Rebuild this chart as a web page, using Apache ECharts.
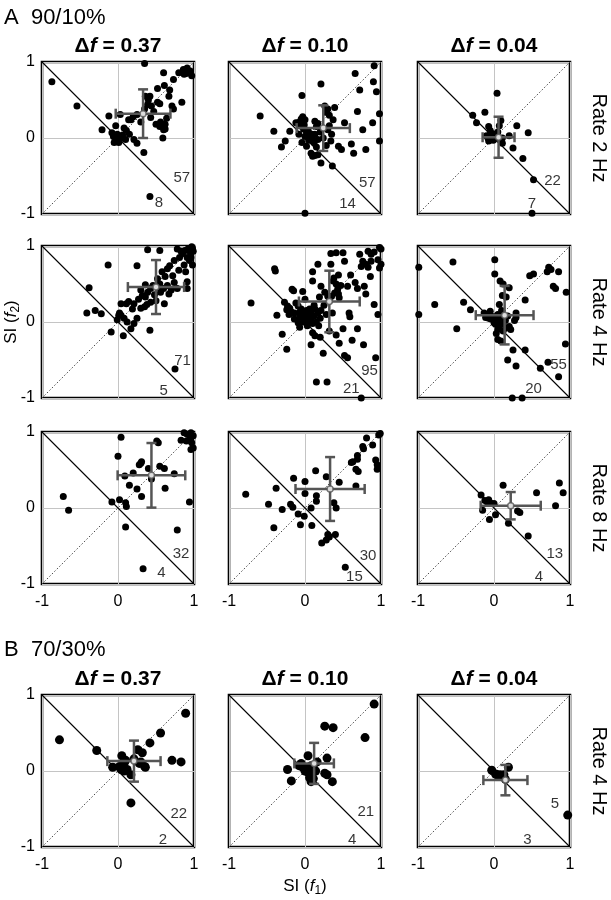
<!DOCTYPE html>
<html><head><meta charset="utf-8">
<script src="https://cdn.jsdelivr.net/npm/echarts@6/dist/echarts.min.js"></script>
<style>html,body{margin:0;padding:0;background:#fff}#c{width:611px;height:900px}</style>
</head><body><div id="c"></div>
<script>
// ---------------- DATA ----------------
const blockTitles = ['A  90/10%', 'B  70/30%'];
const dfLabels = ['0.37', '0.10', '0.04'];
const rowLabels = ['Rate 2 Hz', 'Rate 4 Hz', 'Rate 8 Hz', 'Rate 4 Hz'];
const ticks = [-1, 0, 1];

// A, 2 Hz
const ptsA2_37 = [[-0.87,0.74],[-0.54,0.42],[0.35,0.98],[0.60,0.86],[0.86,0.90],[0.90,0.85],[0.95,0.88],[0.97,0.82],[0.87,0.84],[0.73,0.77],[0.61,0.69],[0.52,0.65],[0.36,0.55],[0.42,0.55],[0.67,0.55],[0.52,0.47],[0.39,0.44],[0.44,0.42],[0.55,0.45],[0.71,0.42],[0.84,0.47],[0.73,0.38],[0.35,0.38],[0.25,0.31],[0.17,0.24],[0.03,0.31],[-0.12,0.29],[0.14,0.24],[0.43,0.27],[0.30,0.21],[0.50,0.18],[0.56,0.21],[0.62,0.18],[0.62,0.12],[0.55,0.15],[-0.03,0.16],[-0.21,0.11],[0.08,0.13],[0.11,0.10],[-0.08,0.07],[-0.06,0.02],[-0.01,0.05],[0.03,-0.01],[-0.03,-0.04],[0.01,-0.06],[0.10,-0.02],[0.21,-0.02],[0.25,-0.07],[0.34,-0.19],[0.59,0.0],[0.42,-0.77],[0.00,-0.03],[0.06,0.04],[0.15,0.05],[0.47,0.35],[0.64,0.26],[0.80,0.86],[0.91,0.92],[0.20,0.28],[-0.05,-0.06],[0.60,0.11],[0.58,0.16],[0.40,0.50],[0.93,0.87],[0.68,0.63]];
const ptsA2_10 = [[0.91,0.95],[0.66,0.85],[0.90,0.74],[0.72,0.63],[0.94,0.61],[0.21,0.71],[-0.04,0.56],[0.26,0.42],[0.30,0.38],[0.39,0.40],[0.69,0.35],[0.98,0.32],[0.32,0.30],[0.37,0.24],[0.52,0.20],[0.89,0.20],[-0.59,0.29],[-0.05,0.25],[-0.06,0.22],[-0.03,0.28],[0.00,0.24],[-0.09,0.20],[-0.07,0.16],[-0.01,0.17],[0.13,0.22],[0.17,0.19],[0.15,0.15],[0.32,0.16],[0.30,0.11],[-0.41,0.09],[-0.20,0.09],[0.76,0.11],[0.02,0.07],[0.06,0.06],[0.09,0.05],[0.13,0.05],[0.00,0.02],[0.06,0.00],[0.10,-0.02],[0.17,-0.02],[-0.26,-0.04],[-0.31,-0.12],[-0.04,-0.06],[0.02,-0.11],[0.34,-0.04],[0.44,-0.11],[0.48,-0.15],[0.61,-0.08],[0.80,-0.15],[0.64,-0.20],[0.98,-0.04],[0.08,-0.20],[0.13,-0.23],[0.17,-0.22],[0.10,-0.24],[0.21,-0.33],[0.36,-0.37],[0.00,-0.99],[0.04,0.10],[0.08,0.02],[0.12,-0.06],[-0.12,0.20],[0.27,0.34],[0.35,0.05],[0.24,0.00],[-0.02,0.12],[0.05,-0.03],[0.15,-0.12],[0.20,0.08],[0.28,-0.10],[-0.08,0.05]];
const ptsA2_04 = [[0.04,0.59],[-0.12,0.34],[-0.28,0.30],[-0.23,0.20],[-0.07,0.15],[-0.05,0.10],[-0.04,0.07],[0.09,0.23],[0.07,0.16],[0.30,0.16],[0.45,0.07],[-0.10,0.03],[-0.08,0.00],[-0.02,0.01],[0.02,0.02],[0.04,0.00],[-0.07,-0.04],[0.07,-0.02],[0.11,0.00],[0.20,0.03],[0.11,-0.07],[0.25,-0.13],[0.38,-0.27],[0.52,-0.55],[0.50,-0.99],[-0.01,-0.03],[0.01,0.05],[-0.04,-0.01],[0.05,0.08]];
// A, 4 Hz
const ptsA4_37 = [[0.39,0.95],[0.55,0.94],[0.78,0.96],[0.83,0.93],[0.88,0.94],[0.92,0.96],[0.95,0.92],[0.98,0.97],[0.96,0.85],[0.91,0.85],[0.94,0.81],[0.98,0.75],[0.87,0.75],[0.81,0.85],[-0.13,0.75],[0.25,0.74],[0.65,0.70],[0.74,0.81],[0.58,0.66],[0.72,0.61],[0.74,0.52],[0.91,0.53],[0.91,0.44],[0.78,0.44],[0.67,0.37],[0.65,0.48],[0.55,0.50],[0.55,0.45],[0.56,0.39],[0.36,0.49],[0.43,0.44],[0.30,0.42],[0.32,0.35],[0.39,0.39],[0.36,0.33],[-0.38,0.45],[0.61,0.24],[0.50,0.28],[0.38,0.23],[0.35,0.20],[0.43,0.26],[0.14,0.27],[0.11,0.24],[0.21,0.24],[0.19,0.17],[0.04,0.24],[-0.41,0.12],[-0.30,0.15],[-0.22,0.11],[0.01,0.09],[0.04,0.09],[0.08,0.05],[0.25,0.05],[-0.01,0.03],[0.12,0.00],[0.21,-0.02],[0.17,-0.09],[-0.09,-0.13],[0.07,-0.18],[0.42,-0.11],[0.75,-0.62],[0.97,0.99],[0.99,0.93],[0.85,0.90],[0.62,0.60],[0.48,0.36],[0.70,0.42],[0.27,0.30],[0.46,0.48],[0.52,0.57],[0.68,0.74],[0.30,0.18],[0.02,0.12],[0.89,0.66],[0.60,0.44],[0.80,0.68]];
const ptsA4_10 = [[0.34,0.90],[0.41,0.91],[0.50,0.91],[0.72,0.89],[0.83,0.93],[0.87,0.89],[0.91,0.92],[0.98,0.98],[1.0,0.96],[0.96,0.82],[0.87,0.80],[0.80,0.76],[0.74,0.73],[0.76,0.80],[0.83,0.72],[0.98,0.71],[1.0,0.76],[-0.40,0.70],[-0.39,0.67],[0.17,0.76],[0.34,0.76],[0.10,0.66],[0.37,0.54],[0.41,0.50],[0.43,0.43],[0.47,0.48],[0.44,0.37],[0.45,0.32],[0.39,0.38],[0.35,0.34],[0.56,0.47],[0.69,0.44],[0.78,0.47],[0.80,0.37],[0.10,0.54],[0.21,0.47],[-0.17,0.43],[-0.15,0.41],[-0.03,0.40],[0.26,0.39],[0.30,0.34],[0.19,0.33],[0.32,0.28],[-0.71,0.25],[-0.27,0.26],[-0.23,0.21],[-0.20,0.18],[-0.24,0.16],[-0.18,0.13],[-0.14,0.12],[-0.21,0.10],[0.91,0.23],[-0.09,0.21],[-0.05,0.17],[-0.07,0.13],[0.0,0.12],[0.02,0.15],[0.06,0.17],[0.08,0.12],[0.12,0.08],[0.04,0.07],[-0.03,0.08],[-0.07,0.06],[-0.14,0.04],[-0.09,-0.01],[0.0,0.04],[0.08,0.04],[0.13,0.17],[0.17,0.12],[0.21,0.15],[-0.37,0.09],[0.58,0.12],[0.59,0.07],[0.96,0.10],[-0.07,-0.07],[0.13,-0.18],[0.10,-0.14],[0.50,-0.09],[0.69,-0.09],[-0.30,-0.16],[0.41,-0.17],[0.77,-0.30],[-0.24,-0.36],[0.24,-0.41],[0.52,-0.44],[0.56,-0.47],[0.93,-0.47],[0.15,-0.79],[0.29,-0.79],[0.74,-1.0],[0.05,0.02],[0.10,-0.02],[0.15,0.00],[-0.02,0.00],[0.03,-0.05],[0.12,0.22],[0.25,0.22],[0.20,0.05],[0.28,0.10],[0.18,-0.05],[-0.12,0.25],[0.00,0.30],[0.38,0.58],[0.44,0.62],[0.60,0.62],[0.52,0.80],[0.66,0.52],[0.86,0.60],[0.32,-0.12],[0.45,-0.28],[0.62,-0.24],[0.36,0.12],[0.08,-0.30],[0.20,-0.20]];
const ptsA4_04 = [[-0.99,0.72],[-0.99,0.10],[-0.54,0.79],[0.01,0.82],[0.01,0.63],[0.08,0.54],[0.12,0.50],[0.20,0.45],[0.47,0.61],[0.52,0.63],[0.72,0.72],[0.75,0.69],[0.70,0.66],[0.85,0.66],[0.78,0.47],[0.81,0.44],[0.95,0.39],[0.11,0.35],[0.16,0.33],[0.41,0.29],[0.07,0.23],[-0.78,0.23],[-0.40,0.26],[-0.31,0.16],[-0.13,0.12],[-0.09,0.09],[-0.04,0.08],[0.00,0.07],[0.04,0.07],[0.09,0.06],[-0.04,0.04],[0.02,0.02],[0.07,0.03],[0.11,0.01],[-0.11,0.06],[-0.07,0.05],[0.05,0.10],[-0.02,0.05],[0.13,0.05],[0.06,0.00],[0.00,-0.01],[0.15,0.02],[0.29,0.12],[0.29,0.06],[0.27,0.02],[0.02,-0.03],[0.07,-0.05],[0.11,-0.03],[0.16,-0.08],[0.20,-0.06],[0.05,-0.10],[0.12,-0.12],[0.22,-0.10],[-0.49,-0.09],[0.05,-0.23],[0.09,-0.25],[0.25,-0.37],[0.41,-0.37],[0.94,-0.29],[0.18,-0.50],[0.29,-0.58],[0.61,-0.61],[0.71,-0.53],[0.85,-0.72],[0.24,-1.0],[0.37,-1.0],[0.10,0.15],[-0.05,0.14],[0.18,0.08],[0.03,-0.15]];
// A, 8 Hz
const ptsA8_37 = [[0.04,0.93],[0.00,0.68],[0.51,0.88],[0.53,0.86],[0.87,0.99],[0.91,0.97],[0.96,0.99],[0.99,0.95],[0.94,0.90],[0.97,0.86],[0.99,0.79],[0.96,0.77],[0.83,0.89],[0.90,0.88],[0.31,0.61],[0.30,0.59],[0.28,0.57],[0.40,0.52],[0.20,0.46],[0.09,0.42],[0.55,0.55],[0.61,0.52],[0.74,0.45],[0.44,0.38],[0.15,0.30],[0.25,0.25],[0.62,0.26],[0.31,0.15],[-0.72,0.15],[-0.65,-0.03],[-0.08,0.08],[0.02,0.11],[0.10,0.07],[0.11,0.02],[0.94,0.08],[0.10,-0.25],[0.78,-0.29],[0.33,-0.80]];
const ptsA8_10 = [[0.99,0.98],[0.97,0.96],[0.81,0.92],[0.89,0.83],[0.76,0.81],[0.77,0.78],[0.69,0.69],[0.69,0.64],[0.63,0.61],[0.61,0.60],[0.93,0.63],[0.95,0.57],[0.95,0.51],[0.67,0.51],[0.70,0.48],[0.14,0.49],[-0.15,0.39],[0.00,0.35],[0.28,0.41],[0.45,0.34],[-0.38,0.26],[0.00,0.19],[-0.78,0.18],[0.15,0.16],[0.15,0.09],[0.67,0.29],[-0.48,0.05],[-0.19,0.05],[-0.16,0.01],[-0.30,-0.02],[0.08,-0.00],[0.38,0.07],[0.41,-0.00],[-0.09,-0.08],[-0.01,-0.11],[-0.41,-0.26],[-0.06,-0.22],[0.09,-0.23],[0.30,-0.35],[0.32,-0.38],[0.28,-0.42],[0.22,-0.46],[0.40,-0.35],[0.53,-0.78]];
const ptsA8_04 = [[0.12,0.30],[-0.17,0.17],[-0.12,0.10],[-0.09,0.08],[-0.05,0.07],[0.00,0.06],[-0.07,0.11],[-0.15,-0.03],[0.02,-0.09],[-0.06,-0.15],[0.19,-0.20],[0.31,-0.04],[0.34,-0.06],[0.56,0.20],[0.86,0.33],[0.91,0.20],[0.81,0.03],[0.45,-0.37]];
// B, 4 Hz
const ptsB4_37 = [[-0.77,0.41],[-0.28,0.27],[0.89,0.76],[0.56,0.50],[0.42,0.37],[0.83,0.12],[0.71,0.14],[0.05,0.20],[-0.07,0.05],[0.02,0.06],[0.08,0.10],[0.12,0.02],[0.08,0.00],[0.26,0.28],[0.32,0.24],[0.30,0.12],[0.35,0.06],[0.36,0.05],[0.17,-0.05],[0.17,-0.42],[0.21,0.16],[0.10,0.14],[0.04,0.02],[0.28,0.10]];
const ptsB4_10 = [[0.91,0.88],[0.26,0.59],[0.37,0.57],[0.79,0.44],[0.04,0.20],[0.29,0.17],[-0.23,0.02],[-0.18,-0.13],[-0.08,0.07],[-0.03,0.05],[0.02,0.04],[0.08,0.07],[0.11,0.04],[0.04,-0.02],[0.09,-0.05],[0.06,-0.09],[0.11,-0.10],[0.26,-0.03],[0.29,-0.05],[0.36,-0.14],[0.08,-0.14],[0.16,0.12],[-0.05,0.10],[0.00,0.00],[0.14,0.00]];
const ptsB4_04 = [[-0.03,0.01],[0.04,-0.05],[0.08,-0.05],[0.13,-0.05],[0.19,0.05],[0.15,-0.11],[0.97,-0.58],[0.02,-0.04]];

// mean x, mean y, sd x, sd y
const errA2 = [[0.33,0.32,0.36,0.32],[0.24,0.13,0.35,0.30],[0.06,0.01,0.21,0.27]];
const errA4 = [[0.50,0.46,0.37,0.355],[0.32,0.27,0.40,0.405],[0.14,0.09,0.38,0.385]];
const errA8 = [[0.44,0.43,0.445,0.425],[0.33,0.25,0.455,0.42],[0.22,0.03,0.395,0.18]];
const errB4 = [[0.21,0.13,0.35,0.27],[0.12,0.10,0.26,0.27],[0.15,-0.12,0.29,0.20]];

// counts above / below the anti-diagonal
const countsA2 = [[57,8],[57,14],[22,7]];
const countsA4 = [[71,5],[95,21],[55,20]];
const countsA8 = [[32,4],[30,15],[13,4]];
const countsB4 = [[22,2],[21,4],[5,3]];

// ---------------- LAYOUT (positions of count labels, in axis units) ----------------
const countPos = [
  [[[0.84,-0.53],[0.54,-0.85]],[[0.82,-0.59],[0.56,-0.86]],[[0.77,-0.57],[0.50,-0.86]]],
  [[[0.85,-0.51],[0.60,-0.90]],[[0.85,-0.64],[0.61,-0.88]],[[0.85,-0.57],[0.52,-0.88]]],
  [[[0.83,-0.60],[0.57,-0.85]],[[0.83,-0.63],[0.65,-0.91]],[[0.80,-0.60],[0.59,-0.91]]],
  [[[0.80,-0.56],[0.59,-0.90]],[[0.80,-0.54],[0.62,-0.90]],[[0.80,-0.43],[0.44,-0.90]]]
];
const colLeft = [42, 229, 418];
const rowTop = [62, 246, 432, 695];
const dotSize = [7, 7, 7, 9];
const SZ = 152;
const FONT = '"Liberation Sans", Arial, Helvetica, sans-serif';

const rows = [
  {pts:[ptsA2_37, ptsA2_10, ptsA2_04], err:errA2, cnt:countsA2},
  {pts:[ptsA4_37, ptsA4_10, ptsA4_04], err:errA4, cnt:countsA4},
  {pts:[ptsA8_37, ptsA8_10, ptsA8_04], err:errA8, cnt:countsA8},
  {pts:[ptsB4_37, ptsB4_10, ptsB4_04], err:errB4, cnt:countsB4}
];

const grids = [], xAxes = [], yAxes = [], series = [];
rows.forEach((row, r) => {
  for (let c = 0; c < 3; c++) {
    const gi = grids.length;
    grids.push({left: colLeft[c], top: rowTop[r], width: SZ, height: SZ, show: true,
      borderColor: '#000', borderWidth: 2.6, backgroundColor: 'rgba(0,0,0,0)'});
    const showX = (r === 2 || r === 3);
    const showY = (c === 0);
    xAxes.push({gridIndex: gi, type: 'value', min: ticks[0], max: ticks[2], interval: 1,
      axisLine: {show: false}, axisTick: {show: false},
      splitLine: {show: true, lineStyle: {color: '#c4c4c4', width: 1}},
      axisLabel: {show: showX, fontSize: 16, color: '#000', fontFamily: FONT, margin: 10}});
    yAxes.push({gridIndex: gi, type: 'value', min: ticks[0], max: ticks[2], interval: 1,
      axisLine: {show: false}, axisTick: {show: false},
      splitLine: {show: true, lineStyle: {color: '#c4c4c4', width: 1}},
      axisLabel: {show: showY, fontSize: 16, color: '#000', fontFamily: FONT, margin: 7}});
    // anti-diagonal (solid)
    series.push({type: 'line', xAxisIndex: gi, yAxisIndex: gi, data: [[-1, 1], [1, -1]],
      symbol: 'none', silent: true, z: 2, lineStyle: {color: '#000', width: 1.1}});
    // identity (dotted)
    series.push({type: 'line', xAxisIndex: gi, yAxisIndex: gi, data: [[-1, -1], [1, 1]],
      symbol: 'none', silent: true, z: 2, lineStyle: {color: '#333', width: 0.9, type: [1.5, 2]}});
    // points
    series.push({type: 'scatter', xAxisIndex: gi, yAxisIndex: gi, data: row.pts[c],
      symbolSize: dotSize[r], silent: true, z: 3, itemStyle: {color: '#000', opacity: 1}});
    // error cross
    series.push({type: 'custom', xAxisIndex: gi, yAxisIndex: gi, data: [row.err[c]], silent: true, z: 5,
      renderItem: function (p, api) {
        const mx = api.value(0), my = api.value(1), sx = api.value(2), sy = api.value(3);
        const L = api.coord([mx - sx, my]), R = api.coord([mx + sx, my]);
        const T = api.coord([mx, my + sy]), B = api.coord([mx, my - sy]);
        const cap = 5;
        const st = {stroke: '#555', lineWidth: 2.5, fill: null};
        const ln = (x1, y1, x2, y2) => ({type: 'line', shape: {x1, y1, x2, y2}, style: st});
        return {type: 'group', children: [
          ln(L[0], L[1], R[0], R[1]), ln(T[0], T[1], B[0], B[1]),
          ln(L[0], L[1] - cap, L[0], L[1] + cap), ln(R[0], R[1] - cap, R[0], R[1] + cap),
          ln(T[0] - cap, T[1], T[0] + cap, T[1]), ln(B[0] - cap, B[1], B[0] + cap, B[1])
        ]};
      }});
    // mean marker
    series.push({type: 'scatter', xAxisIndex: gi, yAxisIndex: gi, data: [[row.err[c][0], row.err[c][1]]],
      symbolSize: 6, silent: true, z: 6, itemStyle: {color: '#fff', borderColor: '#555', borderWidth: 1.5}});
    // counts
    const cp = countPos[r][c];
    series.push({type: 'scatter', xAxisIndex: gi, yAxisIndex: gi,
      data: [[cp[0][0], cp[0][1], String(row.cnt[c][0])], [cp[1][0], cp[1][1], String(row.cnt[c][1])]],
      symbolSize: 0.1, silent: true, z: 7, itemStyle: {color: 'rgba(0,0,0,0)'},
      label: {show: true, position: 'inside', formatter: p => p.value[2], fontSize: 15, color: '#000', fontFamily: FONT}});
  }
});

const graphics = [];
const txt = (x, y, text, opt) => Object.assign({type: 'text', x: x, y: y, silent: true,
  style: Object.assign({text: text, fill: '#000', fontFamily: FONT, fontSize: 15,
    textAlign: 'center', align: 'center', textVerticalAlign: 'middle', verticalAlign: 'middle'}, opt.style || {})},
  opt.el || {});

graphics.push(txt(4, 18, blockTitles[0], {style: {fontSize: 22, textAlign: 'left', align: 'left'}}));
graphics.push(txt(4, 650, blockTitles[1], {style: {fontSize: 22, textAlign: 'left', align: 'left'}}));
const dfRich = {b: {fontSize: 21, fontWeight: 'bold', fontFamily: FONT}, i: {fontSize: 21, fontWeight: 'bold', fontStyle: 'italic', fontFamily: FONT}};
[46, 679].forEach(y => {
  dfLabels.forEach((d, c) => {
    graphics.push(txt(colLeft[c] + SZ / 2, y, '{b|Δ}{i|f}{b| = ' + d + '}', {style: {rich: dfRich}}));
  });
});
rowLabels.forEach((lab, r) => {
  graphics.push(txt(599, rowTop[r] + SZ / 2, lab, {style: {fontSize: 20}, el: {rotation: -Math.PI / 2}}));
});
const siRich = {n: {fontSize: 17, fontFamily: FONT}, i: {fontSize: 17, fontStyle: 'italic', fontFamily: FONT}, s: {fontSize: 12, fontFamily: FONT, padding: [9, 0, 0, 0]}};
graphics.push(txt(11, rowTop[1] + SZ / 2, '{n|SI (}{i|f}{s|2}{n|)}', {style: {rich: siRich}, el: {rotation: Math.PI / 2}}));
graphics.push(txt(colLeft[1] + SZ / 2, 886, '{n|SI (}{i|f}{s|1}{n|)}', {style: {rich: siRich}}));

const chart = echarts.init(document.getElementById('c'), null, {renderer: 'canvas'});
chart.setOption({
  animation: false,
  backgroundColor: '#fff',
  grid: grids, xAxis: xAxes, yAxis: yAxes, series: series, graphic: graphics
});
</script>
</body></html>
